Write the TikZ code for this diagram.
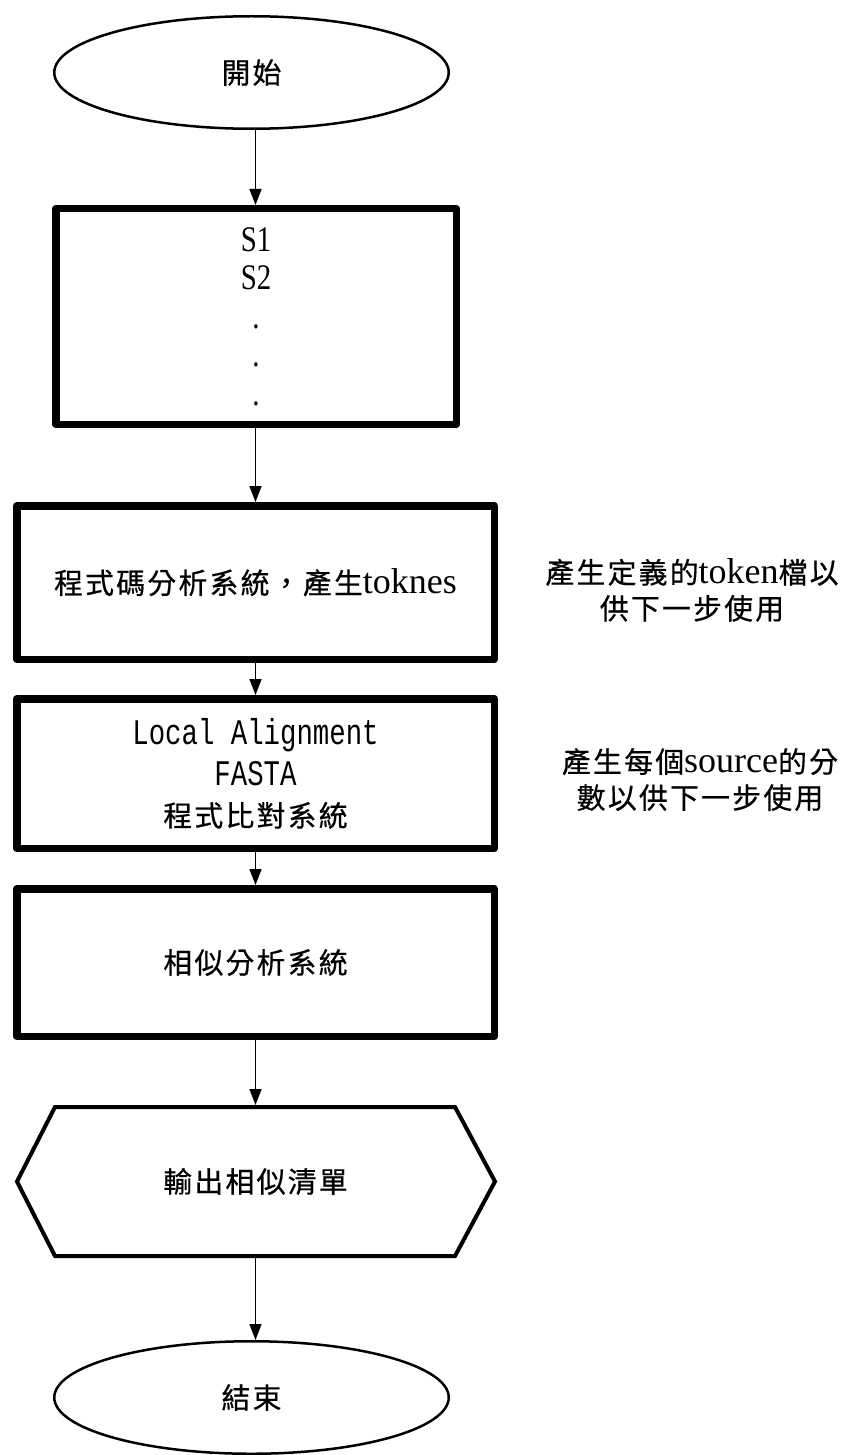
\documentclass[tikz,border=0pt]{standalone}
\usepackage{fontspec}
\setmainfont{Liberation Serif}
\newfontfamily\cjk[Scale=0.8,LetterSpace=8,FakeBold=0.6]{Noto Sans CJK TC}
\newfontfamily\monof[FakeStretch=0.76]{Liberation Mono}
\newfontfamily\nser[FakeStretch=0.8]{Liberation Serif}
\usetikzlibrary{shapes.geometric,arrows.meta}
\begin{document}
\begin{tikzpicture}[x=1pt,y=-1pt,
  startstop/.style={ellipse, draw, line width=2.5pt, minimum width=394.5pt, minimum height=112.5pt, inner sep=0pt, font=\fontsize{36}{40}\selectfont},
  procbox/.style={draw, line width=7.5pt, line join=round, inner sep=0pt, align=center, font=\fontsize{36}{40}\selectfont},
  arr/.style={line width=1.5pt, -{Triangle[length=16pt,width=12pt]}},
  notetext/.style={align=center, inner sep=0pt, font=\fontsize{36}{36}\selectfont}]
\fill[white] (0,0) rectangle (852,1455);
\useasboundingbox (0,0) rectangle (852,1455);

\node[startstop] (start) at (251.5,72.5) {\cjk 開始};
\node[procbox, minimum width=400.5pt, minimum height=215.5pt, font=\nser\fontsize{36}{38.5}\selectfont] (box1) at (256,316.5) {S1\\S2\\.\\.\\.};
\node[procbox, minimum width=477.5pt, minimum height=153.5pt] (box2) at (255.5,582.5) {{\cjk 程式碼分析系統，產生}toknes};
\node[procbox, minimum width=477.5pt, minimum height=149.5pt, font=\monof\fontsize{36}{41}\selectfont] (box3) at (255.5,773.5) {Local Alignment\\FASTA\\{\cjk 程式比對系統}};
\node[procbox, minimum width=477.5pt, minimum height=147.5pt] (box4) at (255.5,962.5) {{\cjk 相似分析系統}};

% output (hexagon)
\draw[line width=4pt, line join=miter] (55,1107) -- (455,1107) -- (495,1181.5) -- (455,1256) -- (55,1256) -- (17,1181.5) -- cycle;
\node[minimum width=478pt, minimum height=153pt, inner sep=0pt, outer sep=0pt, font=\fontsize{36}{40}\selectfont] (out) at (255.5,1181.5) {{\cjk 輸出相似清單}};

\node[startstop] (end) at (251.5,1397.5) {\cjk 結束};

\node[notetext] (note1) at (692,590) {{\cjk 產生定義的}token{\cjk 檔以}\\{\cjk 供下一步使用}};
\node[notetext] (note2) at (700,779.5) {{\cjk 產生每個}source{\cjk 的分}\\{\cjk 數以供下一步使用}};

\draw[arr] (start.south -| box2.north) -- (box1.north -| box2.north);
\draw[arr] (box1.south -| box2.north) -- (box2.north);
\draw[arr] (box2.south) -- (box3.north);
\draw[arr] (box3.south) -- (box4.north);
\draw[arr] (box4.south) -- (out.north);
\draw[arr] (out.south) -- (end.north -| out.south);
\end{tikzpicture}
\end{document}
